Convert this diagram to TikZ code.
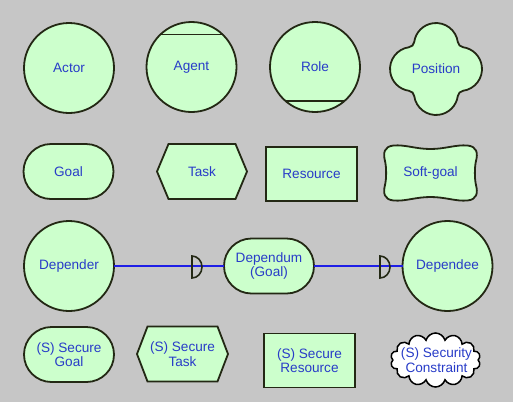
\documentclass[tikz,border=0pt]{standalone}
\usepackage{fontspec}
\setmainfont{Liberation Sans}
\usetikzlibrary{shapes.symbols}
\definecolor{bgc}{RGB}{198,198,198}
\definecolor{fillg}{RGB}{204,255,204}
\definecolor{edgec}{RGB}{35,40,20}
\definecolor{txtc}{RGB}{40,60,200}
\definecolor{linkc}{RGB}{30,30,230}
\begin{document}
\begin{tikzpicture}[x=1pt,y=1pt,
  shp/.style={draw=edgec, fill=fillg, line width=1.8pt, outer sep=0pt},
  lbl/.style={text=txtc, font=\fontsize{13.6}{14.5}\selectfont, align=center, inner sep=0pt},
  circ/.style={shp, lbl, circle, minimum size=90pt},
  stad/.style={shp, lbl, rectangle, rounded corners=27.5pt, minimum width=90pt, minimum height=55pt},
  boxshape/.style={shp, lbl, rectangle, minimum width=91pt, minimum height=54pt},
  chord/.style={draw=edgec, line width=1.8pt},
  linkline/.style={draw=linkc, line width=2.2pt},
  dmark/.style={draw=edgec, line width=1.6pt}
]
\fill[bgc] (0,0) rectangle (513,-402);
\useasboundingbox (0,0) rectangle (513,-402);

% Row 1
\node[circ] (actor) at (69,-68) {Actor};
\node[circ] (agent) at (191.5,-67) {Agent};
\draw[chord] ([shift={(-31.1,32.5)}]agent.center) -- ([shift={(31.1,32.5)}]agent.center);
\node[circ] (role) at (315,-67) {Role};
\draw[chord] ([shift={(-29.5,-34)}]role.center) -- ([shift={(29.5,-34)}]role.center);
\begin{scope}[shift={(436,-69)}]
\path[shp] (24,0) ++(-82.3:22)
  arc[start angle=-82.3, end angle=82.3, radius=22]
  arc[start angle=262.3, end angle=187.7, radius=6]
  arc[start angle=7.7, end angle=172.3, radius=22]
  arc[start angle=352.3, end angle=277.7, radius=6]
  arc[start angle=97.7, end angle=262.3, radius=22]
  arc[start angle=82.3, end angle=7.7, radius=6]
  arc[start angle=187.7, end angle=352.3, radius=22]
  arc[start angle=172.3, end angle=97.7, radius=6] -- cycle;
\node[lbl] (position) at (0,0) {Position};
\end{scope}

% Row 2
\node[stad] (goal) at (68.5,-171.5) {Goal};
\begin{scope}[shift={(202,-171.5)}]
\path[shp] (-45,0) -- (-33.5,27.5) -- (33.5,27.5) -- (45,0) -- (33.5,-27.5) -- (-33.5,-27.5) -- cycle;
\node[lbl] (task) at (0,0) {Task};
\end{scope}
\node[boxshape] (resource) at (311.5,-174) {Resource};
\begin{scope}[shift={(430.5,-173)}]
\path[shp] (0,24) .. controls (15,24) and (25,28.5) .. (37,27.5)
  .. controls (46.5,26.5) and (47.5,20) .. (45.5,12)
  .. controls (44,6) and (44,-6) .. (45.5,-12)
  .. controls (47.5,-20) and (46.5,-26.5) .. (37,-27.5)
  .. controls (25,-28.5) and (15,-24) .. (0,-24)
  .. controls (-15,-24) and (-25,-28.5) .. (-37,-27.5)
  .. controls (-46.5,-26.5) and (-47.5,-20) .. (-45.5,-12)
  .. controls (-44,-6) and (-44,6) .. (-45.5,12)
  .. controls (-47.5,20) and (-46.5,26.5) .. (-37,27.5)
  .. controls (-25,28.5) and (-15,24) .. (0,24) -- cycle;
\node[lbl] (softgoal) at (0,0) {Soft-goal};
\end{scope}

% Row 3
\node[circ] (depender) at (69,-266) {Depender};
\node[stad] (dependum) at (269,-266) {Dependum\\(Goal)};
\node[circ] (dependee) at (447.5,-266) {Dependee};
\draw[linkline] (depender) -- (dependum);
\draw[linkline] (dependum) -- (dependee);
\coordinate (d1) at (192,-267);
\coordinate (d2) at (380,-267);
\draw[dmark] (d1) ++(0,11) -- ++(0,-22) arc[start angle=-90, end angle=90, x radius=10, y radius=11] -- cycle;
\draw[dmark] (d2) ++(0,11) -- ++(0,-22) arc[start angle=-90, end angle=90, x radius=10, y radius=11] -- cycle;

% Row 4
\node[stad] (sgoal) at (69,-354.5) {(S) Secure\\Goal};
\begin{scope}[shift={(182.5,-354)}]
\path[shp] (-45.5,0) -- (-35,27.5) -- (35,27.5) -- (45.5,0) -- (35,-27.5) -- (-35,-27.5) -- cycle;
\node[lbl] (stask) at (0,0) {(S) Secure\\Task};
\end{scope}
\node[boxshape] (sresource) at (309.5,-360.5) {(S) Secure\\Resource};
\node[cloud, cloud puffs=14, aspect=1.7, draw=black, fill=white, line width=1.5pt, inner sep=0pt, outer sep=0pt, minimum width=90pt, minimum height=54pt] (cloudshape) at (435.5,-360) {};
\node[lbl] (sconstraint) at (436.5,-360) {(S) Security\\Constraint};
\end{tikzpicture}
\end{document}
